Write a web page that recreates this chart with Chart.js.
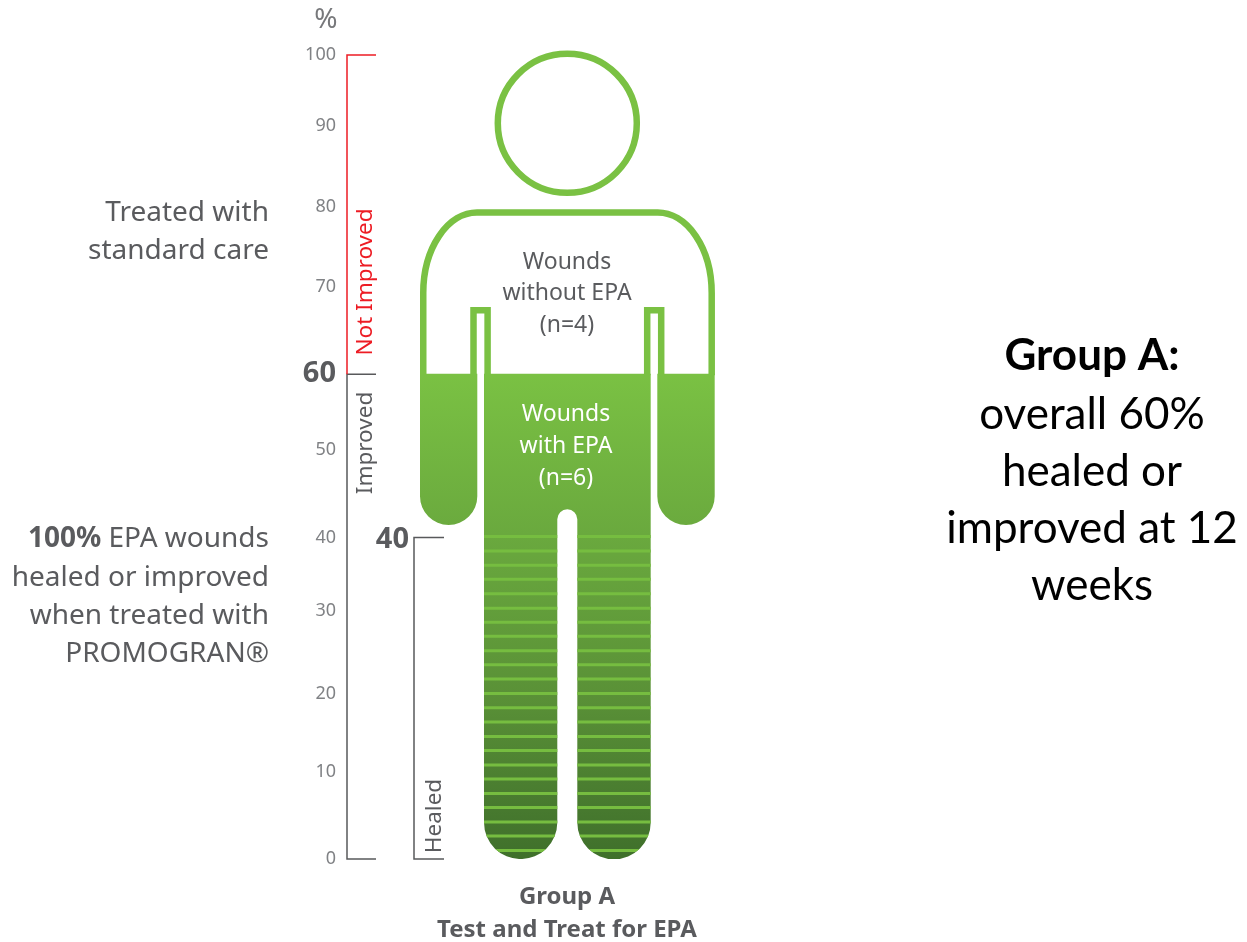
<!DOCTYPE html>
<html>
<head>
<meta charset="utf-8">
<style>
  html, body { margin: 0; padding: 0; background: #fff; }
  canvas { display: block; }
</style>
<script src="https://cdn.jsdelivr.net/npm/chart.js@4"></script>
</head>
<body>
<canvas id="chart" width="1247" height="942"></canvas>
<script>
// values, in %
// the printed axis labels are not evenly spaced in the source, so keep where each one sits
const tickLabels = ['0', '10', '20', '30', '40', '50', '60', '70', '80', '90', '100'];
const tickPlaces = [0, 10.8, 20.6, 30.8, 39.9, 50.9, 60.4, 71.1, 81.1, 91.2, 100];
const boldTicks = ['60'];
const notImprovedLevels = [100, 60.3];
const improvedLevels = [60.3, 0];
const healedLevels = [40, 0];
const filledRange = [0, 60.3];
const stripeLevels = [40.1, 38.3, 36.55, 34.8, 33, 31.2, 29.45, 27.7, 25.9, 24.15, 22.4, 20.6,
  18.8, 17.05, 15.25, 13.5, 11.7, 9.95, 8.15, 6.4, 4.6, 2.85, 1.05];

const leftNote1 = ['Treated with', 'standard care'];
const leftNote2 = ['EPA wounds', 'healed or improved', 'when treated with', 'PROMOGRAN®'];
const withoutLines = ['Wounds', 'without EPA', '(n=4)'];
const withLines = ['Wounds', 'with EPA', '(n=6)'];
const groupLines = ['Group A', 'Test and Treat for EPA'];
const sideLines = ['overall 60%', 'healed or', 'improved at 12', 'weeks'];

const GREEN = '#7ac143';
const GREY = '#5a5b5e';
const FONT = '"Noto Sans"';

// the silhouette, the x scale runs in page pixels
function bodyPath(ctx) {
  ctx.beginPath();
  ctx.moveTo(420, 300);
  ctx.lineTo(477.3, 300);
  ctx.lineTo(477.3, 496.3);
  ctx.arc(448.65, 496.3, 28.65, 0, Math.PI);
  ctx.closePath();

  ctx.moveTo(657.3, 300);
  ctx.lineTo(714.7, 300);
  ctx.lineTo(714.7, 496.3);
  ctx.arc(686, 496.3, 28.7, 0, Math.PI);
  ctx.closePath();

  ctx.moveTo(484, 300);
  ctx.lineTo(650.7, 300);
  ctx.lineTo(650.7, 822.5);
  ctx.arc(614, 822.5, 36.7, 0, Math.PI);
  ctx.lineTo(577.3, 519.3);
  ctx.arc(567.3, 519.3, 10, 0, Math.PI, true);
  ctx.lineTo(557.3, 822.5);
  ctx.arc(520.65, 822.5, 36.65, 0, Math.PI);
  ctx.closePath();
}

function textLines(ctx, lines, x, ys) {
  lines.forEach((line, i) => ctx.fillText(line, x, ys[i]));
}

function upright(ctx, text, x, y, color, font) {
  ctx.save();
  ctx.translate(x, y);
  ctx.rotate(-Math.PI / 2);
  ctx.textAlign = 'center';
  ctx.fillStyle = color;
  ctx.font = font;
  ctx.fillText(text, 0, 0);
  ctx.restore();
}

const figurePlugin = {
  id: 'figure',
  beforeDatasetDraw(chart, args) {
    if (chart.data.datasets[args.index].clipToBody) {
      const ctx = chart.ctx;
      ctx.save();
      bodyPath(ctx);
      ctx.clip();
    }
  },
  afterDatasetDraw(chart, args) {
    if (chart.data.datasets[args.index].clipToBody) {
      chart.ctx.restore();
    }
  },
  afterDatasetsDraw(chart) {
    const ctx = chart.ctx;
    const level = chart.scales.y.getPixelForValue(filledRange[1]);
    ctx.save();
    ctx.strokeStyle = GREEN;
    ctx.lineWidth = 6.5;

    // head
    ctx.beginPath();
    ctx.arc(567.3, 123.3, 69.5, 0, Math.PI * 2);
    ctx.stroke();

    // shoulders and arms down to the fill level
    ctx.beginPath();
    ctx.moveTo(423.25, level + 1);
    ctx.lineTo(423.25, 293);
    ctx.ellipse(477, 293, 53.75, 80.5, 0, Math.PI, Math.PI * 1.5);
    ctx.lineTo(657.7, 212.5);
    ctx.ellipse(657.7, 293, 54, 80.5, 0, Math.PI * 1.5, Math.PI * 2);
    ctx.lineTo(711.7, level + 1);
    ctx.stroke();

    // armpits
    ctx.lineJoin = 'miter';
    [[473.5, 487.6], [647.2, 661.2]].forEach(([a, b]) => {
      ctx.beginPath();
      ctx.moveTo(a, level + 1);
      ctx.lineTo(a, 310.3);
      ctx.lineTo(b, 310.3);
      ctx.lineTo(b, level + 1);
      ctx.stroke();
    });
    ctx.restore();
  },
  afterDraw(chart) {
    const ctx = chart.ctx;
    ctx.save();
    ctx.textBaseline = 'middle';

    ctx.fillStyle = '#77787b';
    ctx.textAlign = 'center';
    ctx.font = '28px ' + FONT;
    ctx.fillText('%', 326, 20);

    // left notes
    ctx.fillStyle = GREY;
    ctx.textAlign = 'right';
    ctx.font = '28px ' + FONT;
    textLines(ctx, leftNote1, 269, [213, 251]);
    textLines(ctx, leftNote2, 269, [539, 578, 616, 654]);
    const w = ctx.measureText(leftNote2[0] + ' ').width;
    ctx.font = 'bold 28px ' + FONT;
    ctx.fillText('100%', 269 - w, 539);

    // big 40 by the healed bracket
    ctx.font = 'bold 29px ' + FONT;
    ctx.fillText('40', 409, 540);

    // inside the figure
    ctx.textAlign = 'center';
    ctx.font = '23px ' + FONT;
    textLines(ctx, withoutLines, 567, [262, 293, 325]);
    ctx.fillStyle = '#fff';
    textLines(ctx, withLines, 566, [414, 446, 478]);

    // under the figure
    ctx.fillStyle = GREY;
    ctx.font = 'bold 24px ' + FONT;
    textLines(ctx, groupLines, 567, [897, 930]);

    // right hand text
    ctx.fillStyle = '#000';
    ctx.font = 'bold 44px Lato';
    ctx.fillText('Group A:', 1092, 356);
    ctx.font = '44px Lato';
    textLines(ctx, sideLines, 1092, [415, 472, 529, 586]);
    ctx.restore();

    upright(ctx, 'Not Improved', 372, 282, '#ed1c24', '22.5px ' + FONT);
    upright(ctx, 'Improved', 372, 443, GREY, '22.5px ' + FONT);
    upright(ctx, 'Healed', 441, 816, GREY, '22.5px ' + FONT);
  }
};

function fillGradient(context) {
  const { chart } = context;
  if (!chart.chartArea) return GREEN;
  const y = chart.scales.y;
  const g = chart.ctx.createLinearGradient(0, y.getPixelForValue(filledRange[1]), 0, y.getPixelForValue(0));
  g.addColorStop(0, '#7ac143');
  g.addColorStop(0.33, '#6aa93e');
  g.addColorStop(0.66, '#5a9137');
  g.addColorStop(1, '#3f6f2b');
  return g;
}

const stripePoints = [];
for (const level of stripeLevels) {
  stripePoints.push({ x: 484, y: level }, { x: 651, y: level }, { x: null, y: null });
}

const isBold = (c) => c.tick && boldTicks.includes(tickLabels[c.index]);

new Chart(document.getElementById('chart'), {
  type: 'bar',
  plugins: [figurePlugin],
  data: {
    datasets: [
      {
        type: 'line',
        label: 'Healed stripes',
        data: stripePoints,
        borderColor: '#76bd40',
        borderWidth: 3,
        pointRadius: 0,
        clipToBody: true,
        order: 1
      },
      {
        type: 'bar',
        label: 'Healed or improved',
        data: [{ x: 567, y: filledRange }],
        backgroundColor: fillGradient,
        barThickness: 320,
        clipToBody: true,
        order: 2
      },
      {
        type: 'line',
        label: 'Not improved',
        data: [
          { x: 376, y: notImprovedLevels[0] },
          { x: 347, y: notImprovedLevels[0] },
          { x: 347, y: notImprovedLevels[1] }
        ],
        borderColor: '#ed1c24',
        borderWidth: 1.5,
        pointRadius: 0,
        clip: false,
        order: 0
      },
      {
        type: 'line',
        label: 'Improved',
        data: [
          { x: 376, y: improvedLevels[0] },
          { x: 347, y: improvedLevels[0] },
          { x: 347, y: improvedLevels[1] },
          { x: 376, y: improvedLevels[1] }
        ],
        borderColor: '#58595b',
        borderWidth: 1.5,
        pointRadius: 0,
        clip: false,
        order: 0
      },
      {
        type: 'line',
        label: 'Healed',
        data: [
          { x: 444, y: healedLevels[0] },
          { x: 414, y: healedLevels[0] },
          { x: 414, y: healedLevels[1] },
          { x: 444, y: healedLevels[1] }
        ],
        borderColor: '#58595b',
        borderWidth: 1.5,
        pointRadius: 0,
        clip: false,
        order: 0
      }
    ]
  },
  options: {
    responsive: false,
    animation: false,
    layout: { padding: { top: 55, bottom: 83, left: 0, right: 0 } },
    plugins: { legend: { display: false }, title: { display: false }, tooltip: { enabled: false } },
    scales: {
      x: { type: 'linear', min: 0, max: 1247, display: false, offset: false },
      y: {
        type: 'linear',
        min: 0,
        max: 100,
        position: { x: 336 },
        afterBuildTicks(scale) {
          scale.ticks = tickPlaces.map((value) => ({ value }));
        },
        grid: { display: false },
        border: { display: false },
        ticks: {
          padding: 0,
          autoSkip: false,
          callback: (value, index) => tickLabels[index],
          color: (c) => (isBold(c) ? GREY : '#808285'),
          font: (c) => (isBold(c)
            ? { family: 'Noto Sans', size: 29, weight: 'bold' }
            : { family: 'Noto Sans', size: 18 })
        }
      }
    }
  }
});
</script>
</body>
</html>
